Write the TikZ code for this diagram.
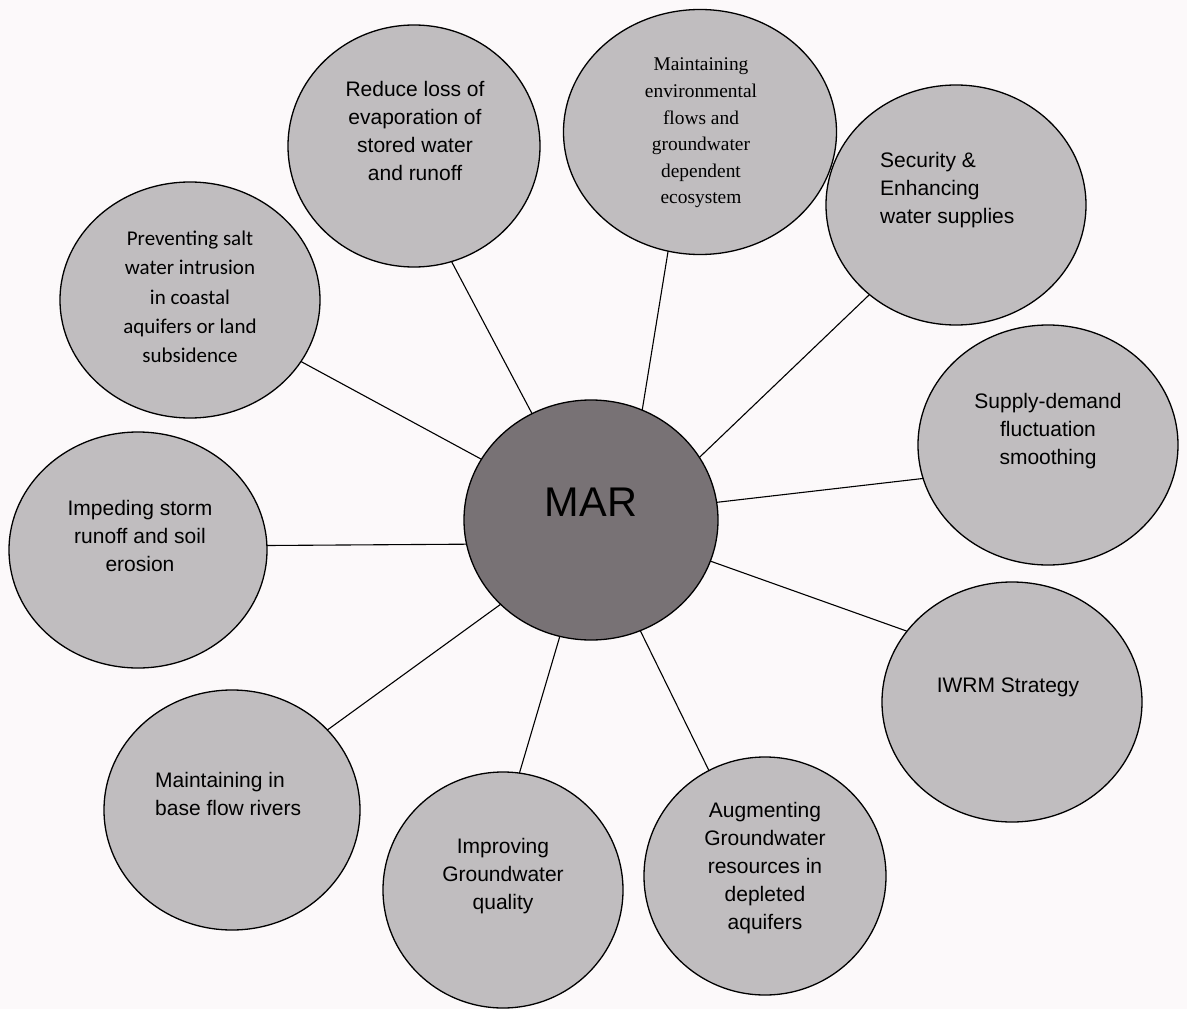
\documentclass[tikz,border=0pt]{standalone}
\usepackage{fontspec}
\setmainfont{Liberation Sans}
\newfontfamily\timesf{Liberation Serif}
\newfontfamily\calib{Carlito}
\usetikzlibrary{shapes.geometric}
\definecolor{bgc}{RGB}{252,249,250}
\definecolor{bub}{RGB}{192,189,191}
\definecolor{core}{RGB}{120,114,117}
\begin{document}
\begin{tikzpicture}[x=1pt,y=-1pt,
  bubble/.style={ellipse, draw=black, line width=1.3pt, fill=bub, inner sep=0pt, outer sep=0pt},
  lbl/.style={align=center, inner sep=0pt, font=\fontsize{21}{28}\selectfont},
  seriflbl/.style={align=center, inner sep=0pt, font=\timesf\fontsize{19.4}{26.6}\selectfont},
  calilbl/.style={align=center, inner sep=0pt, font=\calib\fontsize{21}{29.3}\selectfont},
  link/.style={draw=black, line width=1.1pt}]
\fill[bgc] (0,0) rectangle (1187,1009);
\useasboundingbox (0,0) rectangle (1187,1009);

% bubbles
\node[bubble, minimum width=252pt, minimum height=242pt] (reduce) at (414,146) {};
\node[bubble, minimum width=273pt, minimum height=245pt] (envflow) at (700,132) {};
\node[bubble, minimum width=260pt, minimum height=240pt] (security) at (956,205) {};
\node[bubble, minimum width=260pt, minimum height=240pt] (supply) at (1048,445) {};
\node[bubble, minimum width=260pt, minimum height=240pt] (iwrm) at (1012,702) {};
\node[bubble, minimum width=242pt, minimum height=238pt] (augment) at (765,876) {};
\node[bubble, minimum width=240pt, minimum height=236pt] (improve) at (503,890) {};
\node[bubble, minimum width=256pt, minimum height=240pt] (base) at (232,810) {};
\node[bubble, minimum width=258pt, minimum height=236pt] (impede) at (138,550) {};
\node[bubble, minimum width=260pt, minimum height=236pt] (prevent) at (190,300) {};
\node[bubble, fill=core, minimum width=254pt, minimum height=240pt] (mar) at (591,520) {};

% texts
\node[lbl, font=\fontsize{41.5}{45}\selectfont] (martext) at (591,502) {MAR};
\node[lbl] (reducetext) at (415,131) {Reduce loss of\\evaporation of\\stored water\\and runoff};
\node[seriflbl] (envtext) at (701,133) {Maintaining\\environmental\\flows and\\groundwater\\dependent\\ecosystem};
\node[lbl, align=left, anchor=west] (sectext) at (880,190) {Security \&\\Enhancing\\water supplies};
\node[lbl] (supplytext) at (1048,431) {Supply-demand\\fluctuation\\smoothing};
\node[lbl] (iwrmtext) at (1008,687) {IWRM Strategy};
\node[lbl] (augtext) at (765,868) {Augmenting\\Groundwater\\resources in\\depleted\\aquifers};
\node[lbl] (imptext) at (503,876) {Improving\\Groundwater\\quality};
\node[lbl, align=left, anchor=west] (basetext) at (155,794) {Maintaining in\\base flow rivers};
\node[lbl] (impedetext) at (140,536) {Impeding storm\\runoff and soil\\erosion};
\node[calilbl] (prevtext) at (190,297) {Preventing salt\\water intrusion\\in coastal\\aquifers or land\\subsidence};

% connectors
\draw[link] (mar.119) -- (reduce.-72);
\draw[link] (mar.65.7) -- (envflow.255.3);
\draw[link] (mar.30.1) -- (security.226.3);
\draw[link] (mar.8.1) -- (supply.195.1);
\draw[link] (mar.-19.1) -- (iwrm.146.8);
\draw[link] (mar.-66.6) -- (augment.118.2);
\draw[link] (mar.255.2) -- (improve.82.8);
\draw[link] (mar.223.7) -- (base.40.7);
\draw[link] (mar.191.2) -- (impede.2.2);
\draw[link] (mar.151.6) -- (prevent.-29.7);
\end{tikzpicture}
\end{document}
